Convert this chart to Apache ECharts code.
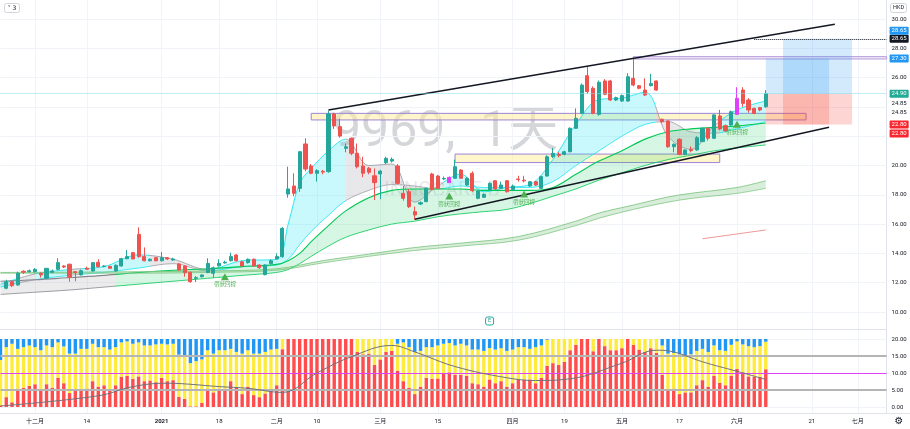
<!DOCTYPE html>
<html><head><meta charset="utf-8">
<script src="https://cdn.jsdelivr.net/npm/echarts@6/dist/echarts.min.js"></script>
<style>html,body{margin:0;padding:0;background:#fff}#c{width:910px;height:429px}</style>
</head><body><div id="c"></div>
<script>
// ---------- DATA ----------
const tradingDays = {
 '2020-11':[23,24,25,26,27,30],
 '2020-12':[1,2,3,4,7,8,9,10,11,14,15,16,17,18,21,22,23,24,28,29,30,31],
 '2021-01':[4,5,6,7,8,11,12,13,14,15,18,19,20,21,22,25,26,27,28,29],
 '2021-02':[1,2,3,4,5,8,9,10,11,16,17,18,19,22,23,24,25,26],
 '2021-03':[1,2,3,4,5,8,9,10,11,12,15,16,17,18,19,22,23,24,25,26,29,30,31],
 '2021-04':[1,7,8,9,12,13,14,15,16,19,20,21,22,23,26,27,28,29,30],
 '2021-05':[3,4,5,6,7,10,11,12,13,14,17,18,20,21,24,25,26,27,28,31],
 '2021-06':[1,2,3,4,7,8,9,10,11,15,16,17,18,21,22,23,24,25,28,29,30],
 '2021-07':[2,5,6,7,8,9]
};
const tickLabels = {'2020-12-01':'十二月','2020-12-14':'14','2021-01-04':'2021','2021-01-18':'18','2021-02-01':'二月','2021-02-10':'10','2021-03-01':'三月','2021-03-15':'15','2021-04-01':'四月','2021-04-19':'19','2021-05-03':'五月','2021-05-17':'17','2021-06-01':'六月','2021-06-21':'21','2021-07-02':'七月'};

const opens = [null,11.62,12.07,11.84,12.78,12.75,12.75,12.64,12.30,12.71,12.91,13.14,13.26,12.75,12.53,12.98,12.80,13.39,13.10,13.12,12.80,13.14,13.64,14.05,15.30,13.78,13.50,13.71,13.50,13.71,13.55,13.28,13.14,12.71,12.30,12.41,12.69,12.64,13.15,13.35,13.50,13.89,13.43,13.37,13.60,13.21,12.55,13.30,13.62,13.78,18.05,18.60,18.44,21.47,19.97,19.47,19.60,19.58,23.52,22.65,21.17,21.86,20.83,19.97,19.81,19.30,19.42,20.19,20.30,19.97,18.10,18.21,16.85,17.37,17.53,19.42,19.28,19.08,18.83,19.13,19.69,18.67,19.47,17.76,17.83,18.33,18.96,18.44,18.96,18.37,19.08,19.00,18.60,18.89,18.44,19.28,20.60,20.75,20.76,20.94,22.54,23.56,26.13,25.27,23.49,25.77,25.77,24.47,24.40,24.40,25.95,25.45,25.15,25.45,25.77,23.15,23.04,21.28,21.79,20.76,21.10,21.06,21.63,22.54,21.86,23.38,22.72,22.76,23.49,25.15,24.47,23.90,23.95,24.01];
const closes = [null,12.07,11.80,12.64,12.72,12.82,12.91,12.53,12.98,12.80,13.37,13.07,12.37,12.69,12.82,12.91,13.37,13.09,13.14,12.98,13.19,13.64,13.78,13.62,13.78,13.50,13.60,13.50,13.71,13.62,13.62,12.87,12.69,12.07,12.34,12.53,13.32,13.02,13.32,13.40,13.78,13.50,13.14,13.60,13.14,13.02,13.21,13.50,13.78,15.71,18.40,18.10,20.94,19.76,19.47,19.65,19.55,23.52,22.70,22.01,21.28,20.83,19.92,19.47,19.54,18.83,19.62,20.49,20.42,18.78,17.76,17.19,16.62,17.46,18.44,18.37,18.44,19.12,19.19,19.92,19.13,19.13,18.28,18.26,18.03,18.78,18.40,18.67,18.21,18.60,19.04,18.95,18.89,18.67,19.24,20.60,20.83,20.68,20.94,22.54,23.22,25.49,25.04,23.56,25.68,24.86,24.47,24.63,24.77,26.06,25.49,25.27,24.81,25.59,25.15,22.99,21.28,21.45,20.76,21.06,21.02,21.90,22.54,21.86,23.45,22.49,22.36,23.67,24.59,24.24,23.79,23.56,23.79,24.90];
const lows = [null,11.55,11.70,11.80,12.60,12.70,12.70,12.35,12.25,12.65,12.85,13.00,12.07,12.10,12.50,12.90,12.75,13.05,13.05,12.95,12.75,13.10,13.60,13.60,13.70,13.45,13.45,13.45,13.45,13.55,13.50,12.80,12.41,12.00,12.05,12.35,12.65,12.35,13.10,13.30,13.45,13.45,13.10,13.30,13.10,12.95,12.50,13.25,13.60,13.70,17.80,17.90,18.20,19.60,19.40,18.90,19.40,19.50,22.50,21.90,20.90,20.70,19.80,19.20,19.40,17.64,17.70,20.10,20.20,18.70,17.60,17.10,16.30,17.30,17.50,18.30,18.40,19.00,18.80,19.10,19.10,18.60,18.20,17.70,17.80,18.30,18.35,18.40,18.15,18.30,18.90,18.85,18.55,18.60,18.40,19.25,20.50,20.55,20.70,20.90,22.50,23.50,24.90,23.50,23.40,24.80,24.40,24.40,24.35,24.35,25.40,25.20,24.75,25.40,25.10,22.90,21.20,20.90,20.70,20.70,20.90,21.00,21.60,21.70,21.80,22.40,22.30,22.70,23.45,24.00,23.60,23.50,23.70,23.95];
const highs = [null,12.20,12.15,12.75,12.85,12.90,13.00,12.70,13.00,12.90,13.67,13.20,13.30,12.80,12.90,13.10,13.40,13.60,13.20,13.15,13.25,13.70,14.23,14.10,15.78,14.41,13.65,13.75,14.10,13.75,13.70,13.35,13.20,12.75,12.45,12.55,13.67,13.10,13.60,13.50,14.05,13.95,13.50,13.65,13.65,13.25,13.25,13.60,14.00,15.80,19.92,19.47,21.00,21.86,20.10,19.75,19.70,23.74,23.60,23.20,21.50,21.90,21.50,20.60,19.90,19.80,19.70,20.60,20.55,20.10,18.60,18.40,17.20,17.55,18.50,19.50,19.35,19.25,19.25,20.40,19.75,19.20,19.60,18.30,18.10,18.85,19.00,18.90,19.00,18.70,19.30,19.30,18.95,18.95,19.30,20.70,21.20,20.90,21.00,22.60,23.90,25.60,26.74,25.40,25.80,25.90,25.85,24.70,24.85,26.30,27.40,25.50,25.95,26.25,25.80,23.20,23.10,21.50,21.85,21.10,21.30,22.00,22.60,22.60,23.50,23.80,22.80,23.75,25.34,25.34,24.60,23.95,24.00,25.15];
const highlightIdx = [78, 128];

// GMMA ribbon envelopes (read at sample bars)
const ribbonIdx = [0,6,12,18,24,30,36,42,48,50,52,54,57,60,64,68,72,76,80,84,88,92,96,100,104,108,112,116,120,124,128,133];
const stTop = [11.9,12.6,12.9,13.1,13.9,13.6,12.9,13.5,13.6,16.0,18.8,19.8,21.0,21.8,20.0,20.1,17.5,18.6,19.4,18.2,18.5,18.7,20.4,22.8,24.5,24.6,25.0,22.0,21.1,22.7,23.8,24.4];
const stBot = [11.7,12.2,12.5,12.7,13.0,13.3,12.8,13.1,13.2,13.6,14.6,15.5,16.6,17.6,18.3,18.7,18.6,18.4,18.6,18.5,18.5,18.5,18.9,20.0,21.0,22.0,22.8,23.0,22.3,22.2,22.5,23.0];
const ltTop = [12.1,12.2,12.35,12.5,12.7,12.85,12.95,13.1,13.25,13.5,14.0,14.8,15.9,16.9,17.8,18.3,18.4,18.4,18.4,18.3,18.3,18.3,18.5,19.4,20.3,21.0,21.8,22.3,22.5,22.6,22.7,22.9];
const ltBot = [11.2,11.35,11.5,11.7,11.9,12.1,12.3,12.5,12.7,12.9,13.3,13.8,14.5,15.1,15.6,16.0,16.2,16.5,16.7,16.85,17.0,17.4,17.9,18.4,19.0,19.5,20.0,20.4,20.7,21.0,21.2,21.4];
const grayRanges = [[3,6],[12,14],[26,37],[60,77],[114,125]];
const lbIdx = [0,12,24,36,48,56,64,72,80,90,100,104,110,116,120,128,133];
const lbTop = [12.7,12.72,12.75,12.8,12.95,13.5,13.95,14.4,14.7,15.15,16.2,16.75,17.3,17.85,18.1,18.5,18.96];
const lbBot = [12.65,12.65,12.65,12.7,12.85,13.35,13.8,14.2,14.5,14.9,15.9,16.4,17.0,17.5,17.75,18.1,18.44];
const redLineIdx = [122, 133];
const redLineVal = [15.0, 15.6];

// drawings
const trendFrom = [[57, 23.79], [72, 16.33]];
const trendTo = [[145, 29.64], [144, 22.61]];
const zoneRects = [[54, 23.56, 140, 23.11], [79, 20.78, 125, 20.20]];
const levelRect = [110, 27.43, 154, 27.27];
const toolStart = [133, 136], toolEnd = [144, 148];
const toolEntry = [24.90, 24.90], toolTarget = [27.30, 28.65], toolStop = [22.80, 22.80];
const dottedStart = 131;
const tagValues = [24.90, 28.65, 28.65, 27.30, 24.85, 24.85, 22.80, 22.80];
const signalIdx = [39, 78, 91, 128];
const signalLow = [12.41, 17.92, 18.05, 22.81];
const signalText = '帶狀回撐';
const earningsIdx = 85;
const watermark = ['9969,  1天', 'INNOCARE-B'];

// lower pane
const redVals = [0.5,2.9,1.4,5.4,5.7,6.2,6.7,4.8,6.7,5.7,8.6,7.0,4.1,4.8,5.2,5.4,7.6,6.0,6.4,5.0,6.4,8.9,9.2,8.3,9.0,7.6,7.8,7.3,8.6,7.6,7.9,3.0,2.4,0.2,0.2,1.2,5.4,4.3,5.4,5.4,7.6,5.7,3.8,6.0,3.5,2.9,4.0,4.8,6.4,17.0,20,20,20,20,20,20,20,20,20,20,20,20,16.2,15.5,15.7,12.4,14.0,16.2,16.5,10.7,7.6,5.7,3.8,6.0,8.6,8.3,8.4,10.0,10.2,9.5,9.5,9.2,7.0,6.7,6.0,8.1,7.0,7.6,6.0,7.0,8.1,8.1,8.1,7.0,8.6,12.1,12.9,12.4,13.3,16.7,18.3,20,20,16.4,20,17.9,16.7,16.7,17.3,20,18.3,16.9,16.2,17.3,15.9,9.5,5.0,5.4,3.8,4.3,4.3,6.4,7.9,6.0,9.2,7.1,6.4,9.2,11.2,10.2,9.0,8.9,8.9,11.1];
const blueVals = [6.2,2.4,1.4,2.9,2.4,1.9,2.4,3.3,1.9,2.4,1.0,2.2,4.3,4.3,2.9,2.9,1.4,2.4,2.4,3.1,2.4,1.0,0.7,1.4,1.0,1.9,1.9,1.6,1.4,1.6,1.4,4.6,5.2,7.1,6.5,6.0,3.3,4.3,3.3,3.3,2.9,3.8,4.3,3.3,4.3,4.3,3.8,3.1,2.9,0,0,0,0,0,0,0,0,0,0,0,0,0,0,0,0,0,0,0,0,1.4,1.0,2.4,3.8,3.5,2.4,2.4,1.9,1.4,1.2,1.9,1.4,1.9,3.1,3.1,3.5,2.7,3.1,2.7,3.5,3.1,2.4,2.4,2.9,2.4,1.9,0.2,0,0,0,0,0,0,0,0,0,0,0,0,0,0,0,0,0,0,0,1.9,4.3,4.1,4.5,4.8,4.5,3.5,2.9,3.8,1.9,3.3,3.5,1.7,0.7,1.6,2.1,2.4,2.1,0.8];
const oscIdx = [0,17,23,29,32,38,43,49,55,61,68,72,79,88,93,99,108,114,117,122,128,133];
const oscVal = [0.3,3.3,6.0,7.0,6.8,6.0,5.5,4.3,10.0,14.8,18.1,16.2,11.9,8.6,7.8,8.3,12.9,16.7,16.2,13.3,10.5,8.1];
const oscLevels = [5, 10, 15];

// ---------- BUILD ----------
const FONT = 'Roboto, "Noto Sans CJK SC", sans-serif';
const TXT = '#131722', GRIDC = '#f0f3f8';
const cats = [];
Object.keys(tradingDays).forEach(m => tradingDays[m].forEach(d => cats.push(m + '-' + String(d).padStart(2, '0'))));
const C = i => cats[i];
const LAST = cats.length - 1;
const isTick = (i, v) => tickLabels[v] !== undefined;

const candleData = opens.map((o, i) => {
  if (o == null) return '-';
  const it = {value: [o, closes[i], lows[i], highs[i]]};
  if (highlightIdx.includes(i)) it.itemStyle = {color:'#e040fb', color0:'#e040fb', borderColor:'#e040fb', borderColor0:'#e040fb'};
  return it;
});
const yellowVals = redVals.map((r, i) => Math.max(0, +(20 - r - blueVals[i]).toFixed(2)));

function band(idx, top, bot, stack, botLine, topLine, area) {
  return [
    {type:'line', xAxisIndex:0, yAxisIndex:0, stack, stackStrategy:'all', smooth:0.35, symbol:'none', silent:true, z:2,
     data: idx.map((x, k) => [C(x), bot[k]]), lineStyle: Object.assign({width:0.8}, botLine)},
    {type:'line', xAxisIndex:0, yAxisIndex:0, stack, stackStrategy:'all', smooth:0.35, symbol:'none', silent:true, z:2,
     data: idx.map((x, k) => [C(x), +(top[k] - bot[k]).toFixed(3)]), lineStyle: Object.assign({width:0.9}, topLine), areaStyle: area}
  ];
}

function pieceList(ranges, inColor, outColor, maxIdx) {
  const out = []; let p = 0;
  ranges.forEach(r => {
    if (r[0] > p) out.push({gte:p, lt:r[0], color:outColor});
    out.push({gte:r[0], lte:r[1], color:inColor});
    p = r[1] + 0.0001;
  });
  out.push({gt:p - 0.0001, lte:maxIdx, color:outColor});
  return out;
}

const tagLook = [
  {bg:'#22ab94', dy:0, line:{type:'dotted', color:'#80deea', width:1}, from:0},
  {bg:'#131722', dy:0, line:{type:'dotted', color:'#131722', width:1}, from:dottedStart},
  {bg:'#2196f3', dy:-8}, {bg:'#2196f3', dy:0},
  {bg:null, dy:9}, {bg:null, dy:18},
  {bg:'#f7262f', dy:0}, {bg:'#f7262f', dy:9}
];
const tagLines = tagValues.map((v, k) => {
  const L = tagLook[k];
  const label = {show:true, position:'end', distance:3, formatter: v.toFixed(2), fontSize:6, lineHeight:6, fontFamily:FONT,
    color: L.bg ? '#fff' : TXT, backgroundColor: L.bg || 'transparent', padding:[1,2,1,2], borderRadius:1, offset:[0, L.dy]};
  const from = L.line ? L.from : LAST - 1;
  return [{coord:[C(from), v], lineStyle: L.line || {color:'rgba(255,255,255,0)', width:1}, label}, {coord:[C(LAST), v]}];
});
const trendLines = trendFrom.map((f, k) => [{coord:[C(f[0]), f[1]], lineStyle:{color:'#131722', width:1.4, type:'solid'}, label:{show:false}}, {coord:[C(trendTo[k][0]), trendTo[k][1]]}]);

const areas = [];
zoneRects.forEach(r => areas.push([{coord:[C(r[0]), r[1]], itemStyle:{color:'rgba(255,238,160,0.55)', borderColor:'#9d84d6', borderWidth:1}}, {coord:[C(r[2]), r[3]]}]));
areas.push([{coord:[C(levelRect[0]), levelRect[1]], itemStyle:{color:'rgba(225,190,231,0.35)', borderColor:'#b39ddb', borderWidth:1}}, {coord:[C(levelRect[2]), levelRect[3]]}]);
toolStart.forEach((s, k) => {
  areas.push([{coord:[C(s), toolTarget[k]], itemStyle:{color:'rgba(33,150,243,0.2)'}}, {coord:[C(toolEnd[k]), toolEntry[k]]}]);
  areas.push([{coord:[C(s), toolEntry[k]], itemStyle:{color:'rgba(244,67,54,0.22)'}}, {coord:[C(toolEnd[k]), toolStop[k]]}]);
});

const xBase = (g, extra) => Object.assign({type:'category', gridIndex:g, data:cats, boundaryGap:false,
  axisLine:{show:false}, axisTick:{show:false}, axisLabel:{show:false}, splitLine:{show:false}}, extra || {});
const grids = [[19,293],[339,68],[0,329],[330,83]].map(a => ({left:0.5, right:23.4, top:a[0], height:a[1], outerBoundsMode:'none', containLabel:false}));

const series = [
  {type:'line', xAxisIndex:0, yAxisIndex:0, data:[], z:1, silent:true, markArea:{silent:true, data:areas}},
  ...band(ribbonIdx, stTop, stBot, 'st', {}, {}, {opacity:0.24}),
  ...band(ribbonIdx, ltTop, ltBot, 'lt', {width:0.8}, {width:1.1}, {opacity:0.16}),
  ...band(lbIdx, lbTop, lbBot, 'lb', {color:'#81c784'}, {color:'#81c784'}, {color:'rgba(76,175,80,0.3)'}),
  {type:'line', xAxisIndex:0, yAxisIndex:0, data: redLineIdx.map((x,k)=>[C(x), redLineVal[k]]), symbol:'none', silent:true, lineStyle:{color:'#ef9a9a', width:1}, z:2},
  {type:'candlestick', xAxisIndex:0, yAxisIndex:0, data:candleData, barWidth:3.6, z:4,
   itemStyle:{color:'#26a69a', color0:'#ef5350', borderColor:'#26a69a', borderColor0:'#ef5350', borderWidth:1},
   markPoint:{silent:true, data:[
     ...signalIdx.map((x,k)=>({coord:[C(x), signalLow[k]], symbol:'triangle', symbolSize:[8,7], itemStyle:{color:'#4caf50'},
        label:{show:true, position:'bottom', distance:2, formatter:signalText, fontSize:5.5, color:'#4caf50', fontFamily:FONT}})),
     {coord:[C(earningsIdx), 10], symbol:'roundRect', symbolSize:[8,8], symbolOffset:[0,9], itemStyle:{color:'#fff', borderColor:'#26a69a', borderWidth:1},
        label:{show:true, position:'inside', formatter:'E', fontSize:5.5, color:'#26a69a'}}
   ]}},
  {type:'line', xAxisIndex:0, yAxisIndex:0, data:[], z:6, silent:true,
   markLine:{silent:true, symbol:['none','none'], data:[...trendLines, ...tagLines]}},
  {type:'bar', xAxisIndex:1, yAxisIndex:1, stack:'ind', data:redVals, barWidth:3.4, itemStyle:{color:'#ff4d4d'}, silent:true},
  {type:'bar', xAxisIndex:1, yAxisIndex:1, stack:'ind', data:yellowVals, barWidth:3.4, itemStyle:{color:'#ffeb3b'}, silent:true},
  {type:'bar', xAxisIndex:1, yAxisIndex:1, stack:'ind', data:blueVals, barWidth:3.4, itemStyle:{color:'#2196f3'}, silent:true},
  {type:'line', xAxisIndex:1, yAxisIndex:1, data: oscIdx.map((x,k)=>[C(x), oscVal[k]]), smooth:0.4, symbol:'none', silent:true, z:5,
   lineStyle:{color:'#6f727c', width:1},
   markLine:{silent:true, symbol:['none','none'], label:{show:false}, data: oscLevels.map(v => ({yAxis:v, lineStyle: v===10 ? {color:'#e040fb', width:1, type:'solid'} : {color:'#b5b5b5', width:1.8, type:'solid'}}))}}
];

const option = {
  animation:false, backgroundColor:'#fff', textStyle:{fontFamily:FONT},
  grid: grids,
  xAxis: [
    xBase(0),
    xBase(1, {axisLabel:{show:true, interval:isTick, fontSize:6, color:TXT, margin:11, fontFamily:FONT,
      formatter: v => tickLabels[v] === '2021' ? '{b|2021}' : (tickLabels[v] || ''), rich:{b:{fontWeight:'bold', fontSize:6, color:TXT}}}}),
    xBase(2, {splitLine:{show:true, interval:isTick, lineStyle:{color:GRIDC}}}),
    xBase(3, {splitLine:{show:true, interval:isTick, lineStyle:{color:GRIDC}}})
  ],
  yAxis: [
    {type:'value', gridIndex:0, position:'right', min:10, max:30, interval:2, axisLine:{show:false}, axisTick:{show:false},
     axisLabel:{fontSize:6, color:TXT, margin:5, fontFamily:FONT, formatter: v => (v===22||v===24) ? '' : v.toFixed(2)}, splitLine:{lineStyle:{color:GRIDC}}},
    {type:'value', gridIndex:1, position:'right', min:0, max:20, interval:5, axisLine:{show:false}, axisTick:{show:false},
     axisLabel:{fontSize:6, color:TXT, margin:5, fontFamily:FONT, formatter: v => v.toFixed(2)}, splitLine:{lineStyle:{color:GRIDC}}},
    {type:'value', gridIndex:2, show:false},
    {type:'value', gridIndex:3, show:false}
  ],
  visualMap: [
    {type:'piecewise', show:false, seriesIndex:[1,2], dimension:0, pieces: pieceList(grayRanges, '#9e9ea6', '#1de4f0', LAST)},
    {type:'piecewise', show:false, seriesIndex:[3,4], dimension:0, pieces: pieceList([[0,20]], '#85858d', '#00c853', LAST)}
  ],
  graphic: [
    {type:'text', x:333, y:133, z:0, silent:true, style:{text:watermark[0], fontSize:50, fontFamily:FONT, fill:'rgba(115,119,130,0.3)', verticalAlign:'middle'}},
    {type:'text', x:442, y:191, z:0, silent:true, style:{text:watermark[1], fontSize:20, fontFamily:FONT, fill:'rgba(115,119,130,0.16)', align:'center', verticalAlign:'middle'}},
    {type:'line', silent:true, shape:{x1:0, y1:329.5, x2:886.6, y2:329.5}, style:{stroke:'#e0e3eb', lineWidth:1}},
    {type:'line', silent:true, shape:{x1:886.5, y1:0, x2:886.5, y2:413}, style:{stroke:'#e0e3eb', lineWidth:1}},
    {type:'line', silent:true, shape:{x1:0, y1:413.5, x2:910, y2:413.5}, style:{stroke:'#e0e3eb', lineWidth:1}},
    {type:'rect', silent:true, shape:{x:890.5, y:3.5, width:16, height:9, r:2}, style:{fill:'#fff', stroke:'#d1d4dc', lineWidth:1}},
    {type:'text', silent:true, x:898.5, y:8, style:{text:'HKD', fontSize:5.5, fontFamily:FONT, fill:TXT, align:'center', verticalAlign:'middle'}},
    {type:'rect', silent:true, shape:{x:4.5, y:3.5, width:15, height:9, r:2}, style:{fill:'#fff', stroke:'#d1d4dc', lineWidth:1}},
    {type:'text', silent:true, x:12, y:8, style:{text:'˅ 3', fontSize:6, fontFamily:'DejaVu Sans', fill:TXT, align:'center', verticalAlign:'middle'}},
    {type:'text', silent:true, x:899, y:421, style:{text:'⚙', fontSize:10, fontFamily:'DejaVu Sans', fill:TXT, align:'center', verticalAlign:'middle'}}
  ],
  series
};
const chart = echarts.init(document.getElementById('c'), null, {renderer:'canvas'});
chart.setOption(option);
</script></body></html>
